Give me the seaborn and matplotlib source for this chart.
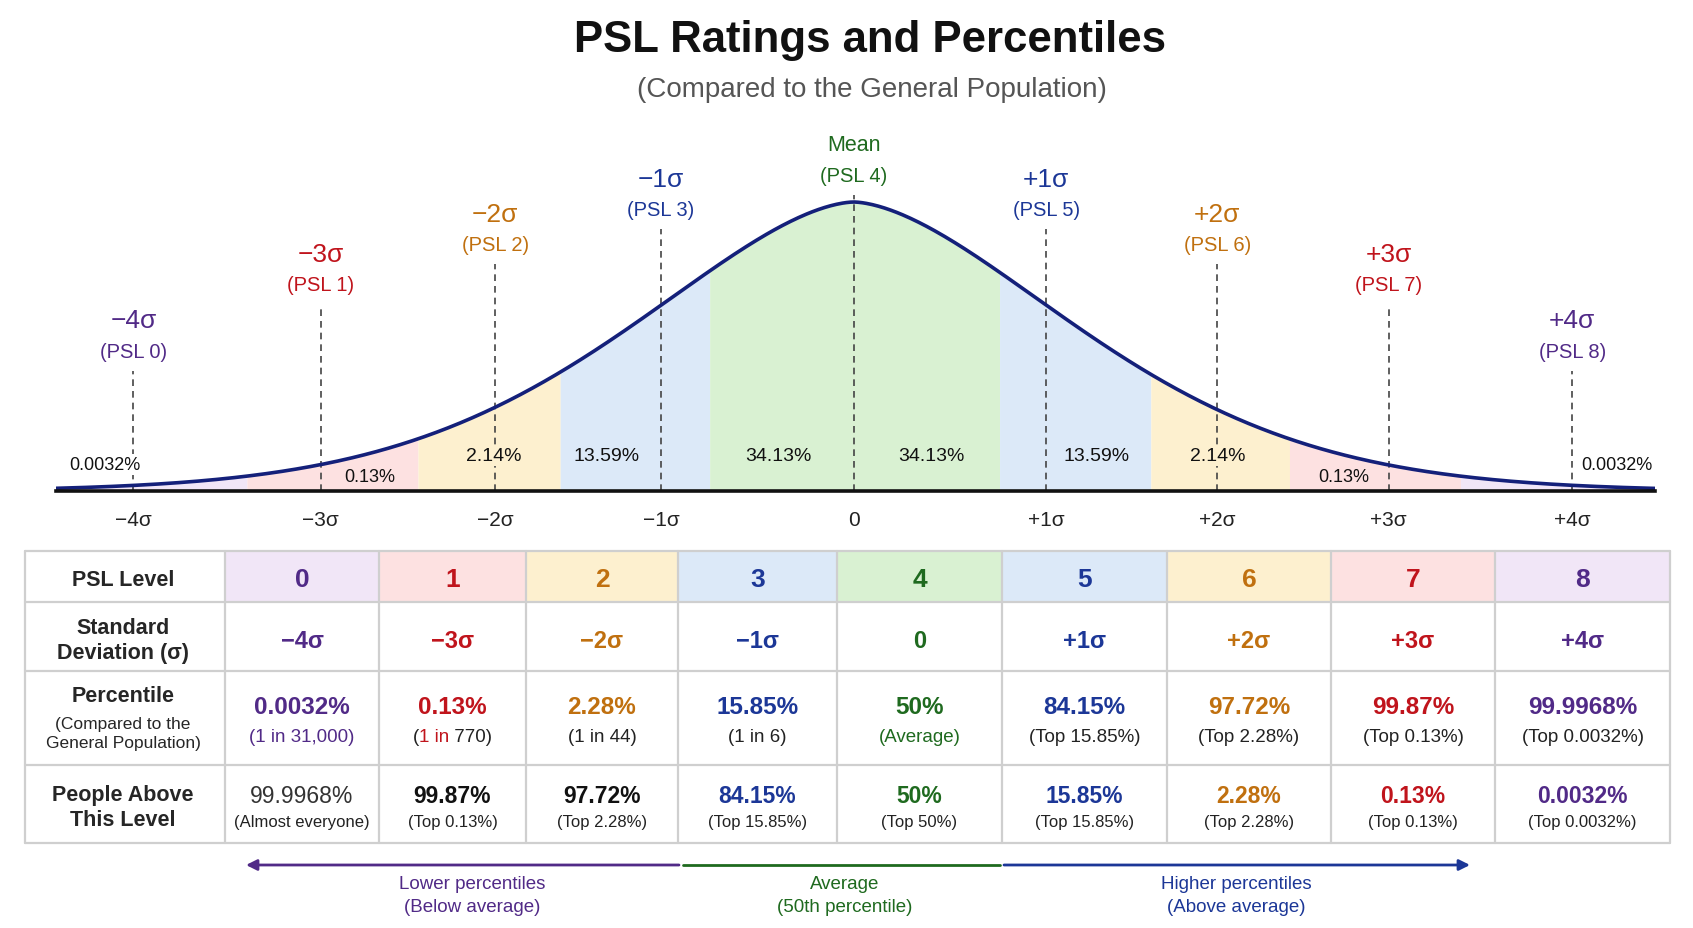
import numpy as np
import seaborn as sns
import matplotlib.pyplot as plt
from matplotlib import font_manager
from matplotlib.patches import Rectangle
from matplotlib.offsetbox import TextArea, HPacker, AnnotationBbox

# ---- data ----
# where the picture puts each sigma mark (in sigma units along the axis)
sigma_pos = [-4.0, -2.96, -1.99, -1.07, 0, 1.07, 2.02, 2.97, 3.99]
tick_labels = ['−4σ', '−3σ', '−2σ', '−1σ', '0', '+1σ', '+2σ', '+3σ', '+4σ']
head_labels = ['−4σ', '−3σ', '−2σ', '−1σ', 'Mean', '+1σ', '+2σ', '+3σ', '+4σ']
psl_labels = ['(PSL 0)', '(PSL 1)', '(PSL 2)', '(PSL 3)', '(PSL 4)',
              '(PSL 5)', '(PSL 6)', '(PSL 7)', '(PSL 8)']
head_height = [0.59, 0.82, 0.96, 1.08, 1.20, 1.08, 0.96, 0.82, 0.59]

band_edges = [-4.43, -3.37, -2.42, -1.63, -0.80, 0.81, 1.65, 2.42, 3.37, 4.45]
band_share = ['0.0032%', '0.13%', '2.14%', '13.59%', '34.13%', '34.13%',
              '13.59%', '2.14%', '0.13%', '0.0032%']
share_x = [-4.16, -2.69, -2.0, -1.37, -0.42, 0.43, 1.35, 2.02, 2.72, 4.24]
share_y = [0.092, 0.05, 0.122, 0.122, 0.122, 0.122, 0.122, 0.122, 0.05, 0.092]

psl_level = ['0', '1', '2', '3', '4', '5', '6', '7', '8']
std_dev = ['−4σ', '−3σ', '−2σ', '−1σ', '0', '+1σ', '+2σ', '+3σ', '+4σ']
percentile = ['0.0032%', '0.13%', '2.28%', '15.85%', '50%', '84.15%',
              '97.72%', '99.87%', '99.9968%']
percentile_note = ['(1 in 31,000)', '(1 in 770)', '(1 in 44)', '(1 in 6)', '(Average)',
                   '(Top 15.85%)', '(Top 2.28%)', '(Top 0.13%)', '(Top 0.0032%)']
above = ['99.9968%', '99.87%', '97.72%', '84.15%', '50%', '15.85%',
         '2.28%', '0.13%', '0.0032%']
above_note = ['(Almost everyone)', '(Top 0.13%)', '(Top 2.28%)', '(Top 15.85%)',
              '(Top 50%)', '(Top 15.85%)', '(Top 2.28%)', '(Top 0.13%)', '(Top 0.0032%)']

# ---- colours ----
P, R, O, B, G = '#512a87', '#c0141c', '#c0700f', '#1c3797', '#1f6a1f'
PF, RF, OF, BF, GF = '#f1e6f7', '#fde1e1', '#fdf0cf', '#dce9f8', '#d9f1d2'
level_col = [P, R, O, B, G, B, O, R, P]
level_fill = [PF, RF, OF, BF, GF, BF, OF, RF, PF]
band_fill = [PF, RF, OF, BF, GF, BF, OF, RF, PF]
curve_col = '#14207a'

sns.set_style('white')
plt.rcParams['font.family'] = ['Liberation Sans', 'DejaVu Sans']
names = {f.name for f in font_manager.fontManager.ttflist}
narrow = 'Liberation Sans Narrow' in names

fig = plt.figure(figsize=(16.93, 9.29), dpi=100)
fig.patch.set_facecolor('white')

# ---- bell curve ----
ax = fig.add_axes([56 / 1693, (929 - 492) / 929, 1599 / 1693, 362 / 929])
ax.patch.set_alpha(0)
ax.set_xlim(band_edges[0], band_edges[-1])
ax.set_ylim(0, 362 / 289)


def bell(x):
    return np.exp(-(np.abs(x) / 1.75) ** 1.66)


for i in range(len(band_fill)):
    xs = np.linspace(band_edges[i], band_edges[i + 1], 120)
    ax.fill_between(xs, 0, bell(xs), color=band_fill[i], lw=0, zorder=1)

xg = np.linspace(band_edges[0], band_edges[-1], 800)
sns.lineplot(x=xg, y=bell(xg), color=curve_col, lw=2.6, ax=ax, zorder=4)

for i, s in enumerate(sigma_pos):
    top = head_height[i] - 0.175
    ax.vlines(s, 0, top, colors='#444444', linestyles=(0, (4, 3)), lw=1.2, zorder=3)
    big = 15.5 if head_labels[i] == 'Mean' else 19
    ax.text(s, head_height[i], head_labels[i], ha='center', va='center',
            fontsize=big, color=level_col[i])
    ax.text(s, head_height[i] - 0.107, psl_labels[i], ha='center', va='center',
            fontsize=14.5, color=level_col[i])

# which band each share label sits in
share_band = [0, 1, 2, 3, 4, 4, 5, 6, 7, 8]
for i, t in enumerate(share_x):
    small = band_share[i] in ('0.0032%', '0.13%')
    fc = 'white' if band_share[i] == '0.0032%' else band_fill[share_band[i]]
    ax.text(t, share_y[i], band_share[i], ha='center', va='center',
            fontsize=13 if small else 14, color='#111111', zorder=5,
            bbox=dict(fc=fc, ec='none', pad=1.5))

for side in ['top', 'left', 'right']:
    ax.spines[side].set_visible(False)
ax.spines['bottom'].set_linewidth(2.6)
ax.spines['bottom'].set_color('#111111')
ax.spines['bottom'].set_zorder(6)
ax.set_yticks([])
ax.set_xticks(sigma_pos, tick_labels)
ax.tick_params(axis='x', direction='out', length=6, width=1.5, color='#222222',
               pad=8, labelsize=15, labelcolor='#222222')
ax.grid(False)

# ---- overlay: title, table, arrows ----
tab = fig.add_axes([0, 0, 1, 1])
tab.set_xlim(0, 1693)
tab.set_ylim(929, 0)
tab.axis('off')

if narrow:
    tab.text(870, 40, 'PSL Ratings and Percentiles', ha='center', va='center',
             fontsize=38, fontweight='bold', family='Liberation Sans Narrow', color='#111111')
else:
    tab.text(870, 40, 'PSL Ratings and Percentiles', ha='center', va='center',
             fontsize=31.5, fontweight='bold', color='#111111')
tab.text(872, 90, '(Compared to the General Population)', ha='center', va='center',
         fontsize=20, color='#555555')

col_edges = [25, 225, 379, 526, 678, 837, 1002, 1167, 1331, 1495, 1670]
row_edges = [552, 603, 672, 766, 844]
grid_col = '#cfcfcf'

for j in range(9):
    tab.add_patch(Rectangle((col_edges[j + 1], row_edges[0]),
                            col_edges[j + 2] - col_edges[j + 1], row_edges[1] - row_edges[0],
                            fc=level_fill[j], ec='none', zorder=1))
for x in col_edges:
    tab.plot([x, x], [row_edges[0], row_edges[-1]], color=grid_col, lw=1.6, zorder=2)
for y in row_edges:
    tab.plot([col_edges[0], col_edges[-1]], [y, y], color=grid_col, lw=1.6, zorder=2)

lx = 123
tab.text(lx, 580, 'PSL Level', ha='center', va='center', fontsize=15.5, fontweight='bold')
tab.text(lx, 641, 'Standard\nDeviation (σ)', ha='center', va='center', fontsize=15.5,
         fontweight='bold', linespacing=1.2)
tab.text(lx, 697, 'Percentile', ha='center', va='center', fontsize=15.5, fontweight='bold')
tab.text(lx, 734, '(Compared to the\nGeneral Population)', ha='center', va='center',
         fontsize=12.5, linespacing=1.35)
tab.text(lx, 808, 'People Above\nThis Level', ha='center', va='center', fontsize=15.5,
         fontweight='bold', linespacing=1.2)

for j in range(9):
    cx = (col_edges[j + 1] + col_edges[j + 2]) / 2
    c = level_col[j]
    tab.text(cx, 580, psl_level[j], ha='center', va='center', fontsize=19,
             fontweight='bold', color=c)
    tab.text(cx, 641, std_dev[j], ha='center', va='center', fontsize=17,
             fontweight='bold', color=c)
    tab.text(cx, 708, percentile[j], ha='center', va='center', fontsize=17.5,
             fontweight='bold', color=c)
    if j == 1:
        # "1 in" printed in red, the rest in black
        note = percentile_note[j]
        parts = [(note[:1], '#222222'), (note[1:5], R), (note[5:], '#222222')]
        box = HPacker(children=[TextArea(s, textprops=dict(color=pc, fontsize=13.5))
                                for s, pc in parts], pad=0, sep=0, align='baseline')
        tab.add_artist(AnnotationBbox(box, (cx, 738), frameon=False,
                                      box_alignment=(0.5, 0.5), pad=0))
    else:
        note_c = P if j == 0 else (G if j == 4 else '#222222')
        tab.text(cx, 738, percentile_note[j], ha='center', va='center', fontsize=13.5,
                 color=note_c)
    above_c = ['#333333', '#111111', '#111111'][j] if j < 3 else c
    tab.text(cx, 797, above[j], ha='center', va='center', fontsize=16.5,
             fontweight='normal' if j == 0 else 'bold', color=above_c)
    tab.text(cx, 823, above_note[j], ha='center', va='center', fontsize=12,
             color='#222222')

# ---- bottom direction arrows ----
ay = 866
tab.annotate('', xy=(246, ay), xytext=(679, ay),
             arrowprops=dict(arrowstyle='-|>', color=P, lw=2, mutation_scale=16,
                             shrinkA=0, shrinkB=0))
tab.plot([683, 1000], [ay, ay], color=G, lw=2)
tab.annotate('', xy=(1470, ay), xytext=(1004, ay),
             arrowprops=dict(arrowstyle='-|>', color=B, lw=2, mutation_scale=16,
                             shrinkA=0, shrinkB=0))
for cx, l1, l2, c in [(472, 'Lower percentiles', '(Below average)', P),
                      (845, 'Average', '(50th percentile)', G),
                      (1236, 'Higher percentiles', '(Above average)', B)]:
    tab.text(cx, 885, l1, ha='center', va='center', fontsize=13.5, color=c)
    tab.text(cx, 908, l2, ha='center', va='center', fontsize=13.5, color=c)

fig.savefig('out.png', dpi=100, facecolor='white')
plt.close(fig)
